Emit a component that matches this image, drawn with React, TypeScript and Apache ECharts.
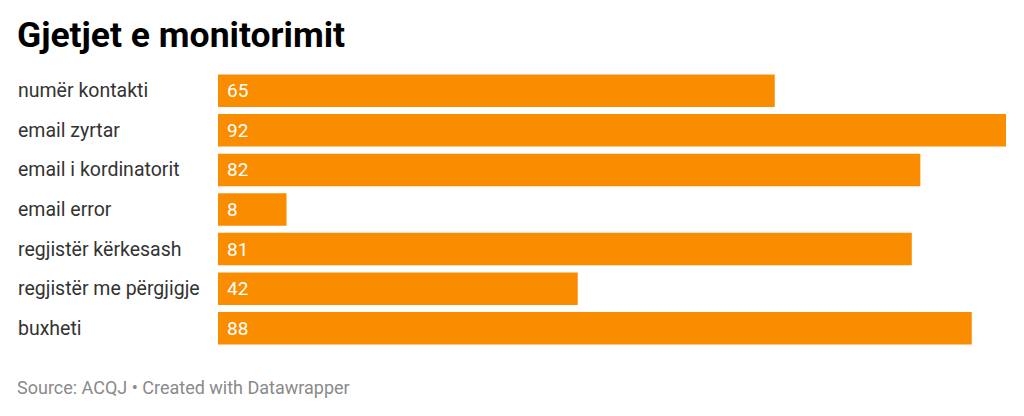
import React, { useEffect, useRef } from "react";
import * as echarts from "echarts";

const categories = [
  "numër kontakti",
  "email zyrtar",
  "email i kordinatorit",
  "email error",
  "regjistër kërkesash",
  "regjistër me përgjigje",
  "buxheti",
];
const values = [65, 92, 82, 8, 81, 42, 88];
const titleText = "Gjetjet e monitorimit";
const footerText = "Source: ACQJ • Created with Datawrapper";

export default function App() {
  const ref = useRef<HTMLDivElement>(null);
  useEffect(() => {
    if (!ref.current) return;
    const chart = echarts.init(ref.current, undefined, { renderer: "svg" });
    chart.setOption({
      animation: false,
      backgroundColor: "#ffffff",
      textStyle: { fontFamily: "Roboto" },
      title: {
        text: titleText,
        left: 12,
        top: 12,
        textStyle: {
          fontFamily: "Roboto",
          fontWeight: "bold",
          fontSize: 35.5,
          color: "#000000",
        },
      },
      graphic: [
        {
          type: "text",
          left: 17,
          top: 378,
          style: {
            text: footerText,
            fontFamily: "Roboto",
            fontSize: 18,
            fill: "#8a8a8a",
          },
        },
      ],
      grid: { left: 218, right: 18, top: 71, bottom: 68, containLabel: false },
      xAxis: {
        type: "value",
        min: 0,
        max: 92,
        show: false,
      },
      yAxis: {
        type: "category",
        data: categories,
        inverse: true,
        axisLine: { show: false },
        axisTick: { show: false },
        axisLabel: {
          align: "left",
          margin: 200,
          fontFamily: "Roboto",
          fontSize: 19.5,
          color: "#333333",
        },
      },
      series: [
        {
          type: "bar",
          data: values,
          barWidth: 32.5,
          itemStyle: { color: "#fa8c00" },
          label: {
            show: true,
            position: "insideLeft",
            distance: 9,
            fontFamily: "Roboto",
            fontSize: 19,
            color: "#ffffff",
          },
        },
      ],
    });
    return () => chart.dispose();
  }, []);
  return <div ref={ref} style={{ width: 1024, height: 416, margin: -8 }} />;
}
